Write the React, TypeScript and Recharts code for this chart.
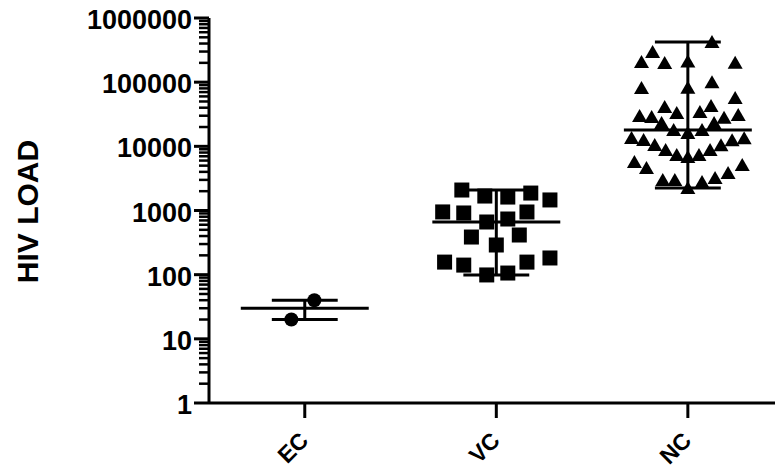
import React from "react";
import { ScatterChart, Scatter, XAxis, YAxis, ReferenceLine } from "recharts";

const groups = ["EC", "VC", "NC"];

const ecLoad = [40, 20];
const ecJitter = [0.05, -0.07];

const vcLoad = [
  2085, 1680, 1620, 1870, 1460, 950, 915, 662, 737, 948, 386, 290, 415, 157,
  141, 99, 106, 157, 182,
];
const vcJitter = [
  -0.18, -0.06, 0.06, 0.18, 0.28, -0.28, -0.17, -0.05, 0.06, 0.16, -0.13, 0,
  0.12, -0.27, -0.17, -0.05, 0.06, 0.16, 0.28,
];

const ncLoad = [
  422000, 295000, 206000, 199000, 210000, 200000, 81000, 82000, 100000, 56600,
  41000, 42500, 29700, 28600, 33000, 34300, 28000, 30800, 23100, 23000, 17950,
  16100, 18000, 13500, 12500, 10500, 8770, 7330, 6820, 7300, 8800, 10400,
  12400, 13400, 5700, 4590, 2990, 3000, 2240, 2780, 3210, 3840, 5110,
];
const ncJitter = [
  0.126, -0.184, -0.242, -0.121, 0, 0.247, -0.242, 0, 0.126, 0.247, -0.121,
  0.121, -0.252, -0.189, -0.058, 0.063, 0.189, 0.263, -0.137, 0.137, -0.074, 0,
  0.074, -0.294, -0.231, -0.173, -0.116, -0.058, 0, 0.058, 0.116, 0.173, 0.231,
  0.294, -0.279, -0.216, -0.131, -0.068, 0, 0.074, 0.142, 0.21, 0.284,
];

const yMajorTicks = [1, 10, 100, 1000, 10000, 100000, 1000000];

// minor log ticks 2..9 inside every decade
const yMinorTicks: number[] = [];
yMajorTicks.slice(0, -1).forEach((d) => {
  for (let k = 2; k <= 9; k++) yMinorTicks.push(k * d);
});
const yTicks = [...yMajorTicks, ...yMinorTicks].sort((a, b) => a - b);

const FONT = '"Liberation Sans", Arial, sans-serif';

const toPoints = (group: number, load: number[], jitter: number[]) =>
  load.map((v, i) => ({ x: group + jitter[i], y: v }));

const ecData = toPoints(1, ecLoad, ecJitter);
const vcData = toPoints(2, vcLoad, vcJitter);
const ncData = toPoints(3, ncLoad, ncJitter);

const median = (arr: number[]) => {
  const s = [...arr].sort((a, b) => a - b);
  const m = Math.floor(s.length / 2);
  return s.length % 2 ? s[m] : (s[m - 1] + s[m]) / 2;
};

const summaries = [ecLoad, vcLoad, ncLoad].map((load, i) => ({
  c: i + 1,
  med: median(load),
  lo: Math.min(...load),
  hi: Math.max(...load),
}));

const CircleDot = (p: any) => <circle cx={p.cx} cy={p.cy} r={7} fill="#000" />;
const SquareDot = (p: any) => (
  <rect x={p.cx - 7.5} y={p.cy - 7.5} width={15} height={15} fill="#000" />
);
const TriangleDot = (p: any) => (
  <path
    d={`M${p.cx},${p.cy - 7} L${p.cx + 7.5},${p.cy + 6} L${p.cx - 7.5},${p.cy + 6} Z`}
    fill="#000"
  />
);

const YTick = (props: any) => {
  const { x, y, payload } = props;
  const major = yMajorTicks.includes(payload.value);
  return (
    <g>
      <line
        x1={x - (major ? 15 : 10)}
        x2={x}
        y1={y}
        y2={y}
        stroke="#000"
        strokeWidth={major ? 3 : 2.5}
      />
      {major && (
        <text
          x={x - 17}
          y={y + 2}
          textAnchor="end"
          dominantBaseline="central"
          fontFamily={FONT}
          fontWeight="bold"
          fontSize={27}
          fill="#000"
        >
          {payload.value}
        </text>
      )}
    </g>
  );
};

const XTick = (props: any) => {
  const { x, y, payload } = props;
  const ax = x + 5;
  const ay = y + 39;
  return (
    <g>
      <line x1={x} x2={x} y1={y} y2={y + 15} stroke="#000" strokeWidth={3} />
      <text
        x={ax}
        y={ay}
        transform={`rotate(-45, ${ax}, ${ay})`}
        textAnchor="end"
        fontFamily={FONT}
        fontWeight="bold"
        fontSize={23}
        fill="#000"
      >
        {groups[payload.value - 1]}
      </text>
    </g>
  );
};

const YLabel = (props: any) => {
  const vb = props.viewBox || { y: 18, height: 385 };
  const cy = vb.y + vb.height / 2 + 1;
  return (
    <text
      x={27}
      y={cy}
      transform={`rotate(-90, 27, ${cy})`}
      textAnchor="middle"
      dominantBaseline="central"
      fontFamily={FONT}
      fontWeight="bold"
      fontSize={30}
      fill="#000"
    >
      HIV LOAD
    </text>
  );
};

export default function App() {
  return (
    <div style={{ position: "absolute", left: 0, top: 0, background: "#fff" }}>
      <ScatterChart
        width={775}
        height={470}
        margin={{ top: 18, right: 0, bottom: 0, left: 0 }}
      >
        <XAxis
          type="number"
          dataKey="x"
          domain={[0.5, 3.455]}
          ticks={[1, 2, 3]}
          interval={0}
          allowDataOverflow
          height={67}
          tick={<XTick />}
          tickLine={false}
          tickSize={0}
          tickMargin={0}
          axisLine={{ stroke: "#000", strokeWidth: 3 }}
        />
        <YAxis
          type="number"
          dataKey="y"
          scale="log"
          domain={[1, 1000000]}
          allowDataOverflow
          ticks={yTicks}
          interval={0}
          width={209}
          tick={<YTick />}
          tickLine={false}
          tickSize={0}
          tickMargin={0}
          axisLine={{ stroke: "#000", strokeWidth: 3 }}
          label={<YLabel />}
        />
        <Scatter data={ecData} shape={<CircleDot />} isAnimationActive={false} />
        <Scatter data={vcData} shape={<SquareDot />} isAnimationActive={false} />
        <Scatter data={ncData} shape={<TriangleDot />} isAnimationActive={false} />
        {summaries.map((s) => (
          <ReferenceLine
            key={`med-${s.c}`}
            segment={[
              { x: s.c - 0.334, y: s.med },
              { x: s.c + 0.334, y: s.med },
            ]}
            stroke="#000"
            strokeWidth={3}
          />
        ))}
        {summaries.map((s) => (
          <ReferenceLine
            key={`hi-${s.c}`}
            segment={[
              { x: s.c - 0.172, y: s.hi },
              { x: s.c + 0.172, y: s.hi },
            ]}
            stroke="#000"
            strokeWidth={3}
          />
        ))}
        {summaries.map((s) => (
          <ReferenceLine
            key={`lo-${s.c}`}
            segment={[
              { x: s.c - 0.172, y: s.lo },
              { x: s.c + 0.172, y: s.lo },
            ]}
            stroke="#000"
            strokeWidth={3}
          />
        ))}
        {summaries.map((s) => (
          <ReferenceLine
            key={`v-${s.c}`}
            segment={[
              { x: s.c, y: s.lo },
              { x: s.c, y: s.hi },
            ]}
            stroke="#000"
            strokeWidth={3}
          />
        ))}
      </ScatterChart>
    </div>
  );
}
